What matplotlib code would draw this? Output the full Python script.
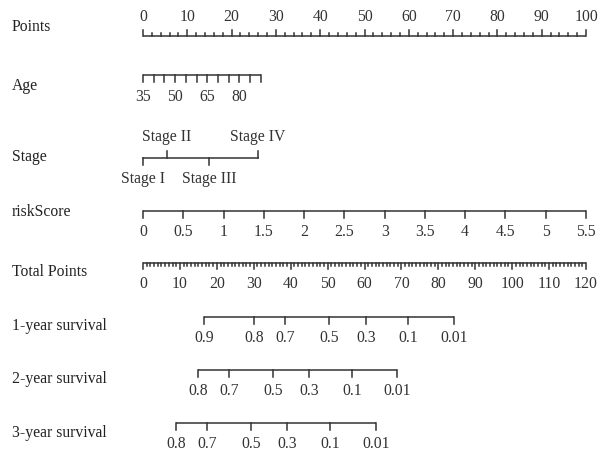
import numpy as np
import matplotlib
matplotlib.use("Agg")
from matplotlib import pyplot as plt

plt.rcParams['font.family'] = ['Liberation Serif', 'DejaVu Serif']

# nomogram scales (values on each axis and their position in points)
points_major = [0, 10, 20, 30, 40, 50, 60, 70, 80, 90, 100]
age_ticks = [35, 40, 45, 50, 55, 60, 65, 70, 75, 80, 85, 90]
age_labels = [35, 50, 65, 80]
age_max_points = 26.6
stage_names = ["Stage I", "Stage II", "Stage III", "Stage IV"]
stage_points = [0, 5.4, 14.9, 26.0]
risk_ticks = [0, 0.5, 1, 1.5, 2, 2.5, 3, 3.5, 4, 4.5, 5, 5.5]
risk_labels = ["0", "0.5", "1", "1.5", "2", "2.5", "3", "3.5", "4", "4.5", "5", "5.5"]
risk_max = 5.5
total_major = [0, 10, 20, 30, 40, 50, 60, 70, 80, 90, 100, 110, 120]
total_max = 120
surv1_labels = ["0.9", "0.8", "0.7", "0.5", "0.3", "0.1", "0.01"]
surv1_total = [16.5, 30.1, 38.5, 50.4, 60.4, 71.8, 84.2]
surv2_labels = ["0.8", "0.7", "0.5", "0.3", "0.1", "0.01"]
surv2_total = [14.9, 23.3, 35.2, 45.0, 56.6, 68.8]
surv3_labels = ["0.8", "0.7", "0.5", "0.3", "0.1", "0.01"]
surv3_total = [8.9, 17.3, 29.3, 39.0, 50.7, 63.1]

row_names = ["Points", "Age", "Stage", "riskScore", "Total Points",
             "1-year survival", "2-year survival", "3-year survival"]
row_y = [27, 86, 157, 212, 272, 326, 379, 433]

col = "#333333"
lw = 1.1
fs = 11.3

fig = plt.figure(figsize=(5.99, 4.56), dpi=100)
ax = fig.add_axes([0, 0, 1, 1])
px = 4.43  # pixels per point
ax.set_xlim(-143 / px, (599 - 143) / px)
ax.set_ylim(456, 0)
ax.axis("off")


def scale(y, pos, length, labels=None, label_pos=None, up=True, text_dy=0):
    ax.plot([pos[0], pos[-1]], [y, y], color=col, lw=lw, solid_capstyle="butt")
    for p, L in zip(pos, length):
        ax.plot([p, p], [y, y - L if up else y + L], color=col, lw=lw)
    if labels is not None:
        for p, s in zip(label_pos, labels):
            ax.text(p, y + text_dy, s, ha="center", va="center", fontsize=fs, color=col)


for name, y in zip(row_names, row_y):
    ax.text(-131 / px, y, name, ha="left", va="center", fontsize=fs, color="#222222")

# Points
pts = np.arange(0, 101, 2)
scale(37, pts, [6 if p % 10 == 0 else 3 for p in pts],
      [str(p) for p in points_major], points_major, up=True, text_dy=-20)

# Age
age_pos = [(a - age_ticks[0]) / (age_ticks[-1] - age_ticks[0]) * age_max_points for a in age_ticks]
age_lab_pos = [(a - age_ticks[0]) / (age_ticks[-1] - age_ticks[0]) * age_max_points for a in age_labels]
scale(76, age_pos, [7] * len(age_pos), [str(a) for a in age_labels], age_lab_pos,
      up=False, text_dy=21)

# Stage
sy = 159
ax.plot([stage_points[0], stage_points[-1]], [sy, sy], color=col, lw=lw)
for i, (p, s) in enumerate(zip(stage_points, stage_names)):
    if i % 2 == 0:
        ax.plot([p, p], [sy, sy + 7], color=col, lw=lw)
        ax.text(p, sy + 20, s, ha="center", va="center", fontsize=fs, color=col)
    else:
        ax.plot([p, p], [sy, sy - 7], color=col, lw=lw)
        ax.text(p, sy - 22, s, ha="center", va="center", fontsize=fs, color=col)

# riskScore
risk_pos = [r / risk_max * 100 for r in risk_ticks]
scale(212, risk_pos, [7] * len(risk_pos), risk_labels, risk_pos, up=False, text_dy=20)

# Total Points
tot = np.arange(0, total_max + 1)
tot_pos = tot / total_max * 100
scale(264, tot_pos, [6 if t % 10 == 0 else 3 for t in tot],
      [str(t) for t in total_major], [t / total_max * 100 for t in total_major],
      up=False, text_dy=20)

# survival scales
for y, labels, tp in [(318, surv1_labels, surv1_total),
                      (371, surv2_labels, surv2_total),
                      (424, surv3_labels, surv3_total)]:
    pos = [t / total_max * 100 for t in tp]
    scale(y, pos, [7] * len(pos), labels, pos, up=False, text_dy=20)

fig.savefig("out.png", dpi=100)
